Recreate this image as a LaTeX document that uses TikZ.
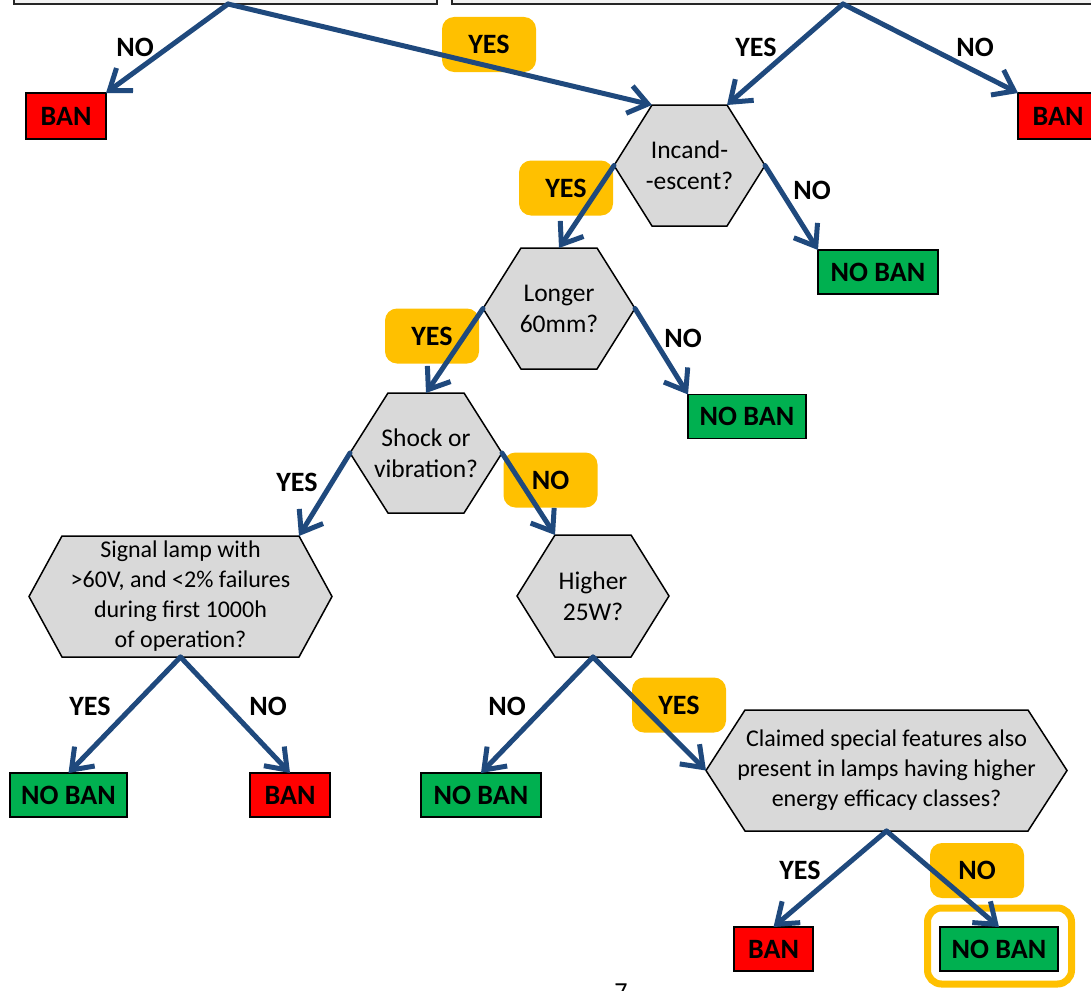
\documentclass[tikz,border=0pt]{standalone}
\usepackage{fontspec}
\setmainfont{Carlito}
\usetikzlibrary{arrows.meta,calc,backgrounds}

\definecolor{flowblue}{HTML}{1F497D}
\definecolor{banred}{HTML}{FF0000}
\definecolor{okgreen}{HTML}{00B050}
\definecolor{hexgray}{HTML}{D9D9D9}
\definecolor{gold}{HTML}{FFC000}
\definecolor{topgray}{HTML}{F2F2F2}

\tikzset{
  verdict/.style={draw=black, line width=1.5pt, minimum height=44pt, inner sep=0pt,
    outer sep=0pt, font=\fontsize{28}{33}\selectfont\bfseries},
  ban/.style={verdict, fill=banred, minimum width=80pt},
  noban/.style={verdict, fill=okgreen, minimum width=118pt},
  question/.style={inner sep=0pt, outer sep=0pt, align=center,
    font=\fontsize{24}{30}\selectfont},
  shortq/.style={question, font=\fontsize{25.5}{31}\selectfont},
  hexline/.style={draw=black, line width=1.5pt, fill=hexgray, line join=miter},
  answer/.style={font=\fontsize{28}{33}\selectfont\bfseries, inner sep=0pt},
  picked/.style={answer, fill=gold, rounded corners=12pt, minimum width=94pt,
    minimum height=55pt},
  topbox/.style={draw=black!85, line width=2pt, fill=topgray, inner sep=0pt, outer sep=0pt},
  flow/.style={draw=flowblue, line width=5pt, line cap=round,
    -{Straight Barb[length=19pt, width=28pt]}},
}

% hexagonal outline around a question node: #1 node name, #2 corner inset
\newcommand\hexoutline[2]{%
  \path[hexline] (#1.west) -- ($(#1.north west)+(#2,0)$) -- ($(#1.north east)+(-#2,0)$)
    -- (#1.east) -- ($(#1.south east)+(-#2,0)$) -- ($(#1.south west)+(#2,0)$) -- cycle;
  \coordinate (#1-tl) at ($(#1.north west)+(#2,0)$);
  \coordinate (#1-tr) at ($(#1.north east)+(-#2,0)$);
}

\begin{document}
\begin{tikzpicture}[x=1pt,y=-1pt]
\useasboundingbox (0,0) rectangle (1091,990);

% question boxes at the top (their text lies above the page)
\node[topbox, anchor=south west, minimum width=423pt, minimum height=80pt] (t1) at (14,4) {};
\node[topbox, anchor=south west, minimum width=700pt, minimum height=80pt] (t2) at (452,4) {};
\coordinate (t1o) at (228,4);
\coordinate (t2o) at (843,4);

% questions
\node[shortq, minimum width=151pt, minimum height=121pt] (q1) at (689.5,165.5) {Incand-\\-escent?};
\node[shortq, minimum width=152pt, minimum height=121pt] (q2) at (559,308.5) {Longer\\60mm?};
\node[shortq, minimum width=152pt, minimum height=120pt] (q3) at (426,453) {Shock or\\vibration?};
\node[shortq, minimum width=152pt, minimum height=122pt] (q4) at (593,596) {Higher\\25W?};
\node[question, minimum width=303pt, minimum height=121pt] (q5) at (180.5,596.5)
  {Signal lamp with\\>60V, and <2\% failures\\during first 1000h\\of operation?};
\node[question, minimum width=361pt, minimum height=121pt] (q6) at (886.5,770.5)
  {Claimed special features also\\present in lamps having higher\\energy efficacy classes?};

\begin{scope}[on background layer]
  \hexoutline{q1}{38}
  \hexoutline{q2}{38}
  \hexoutline{q3}{38}
  \hexoutline{q4}{38}
  \hexoutline{q5}{33}
  \hexoutline{q6}{39}
\end{scope}

% outcomes
\node[draw=gold, line width=7pt, rounded corners=14pt, minimum width=144pt,
  minimum height=76pt, inner sep=0pt] (hl) at (999.5,946) {};
\node[ban, minimum height=46pt] (v1) at (66,116) {BAN};
\node[ban, minimum height=46pt] (v2) at (1058,116) {BAN};
\node[noban, minimum width=120pt] (v3) at (878,272) {NO BAN};
\node[noban] (v4) at (747,416.5) {NO BAN};
\node[noban, minimum width=117pt] (v5) at (68.5,795) {NO BAN};
\node[ban] (v6) at (290,795) {BAN};
\node[noban, minimum width=120pt] (v7) at (481,795) {NO BAN};
\node[ban, minimum width=79pt] (v8) at (773.5,949) {BAN};
\node[noban] (v9) at (999,949) {NO BAN};

% answer labels
\node[answer] (a1) at (135,47) {NO};
\node[picked] (a2) at (489,44.5) {YES};
\node[answer] (a3) at (756,47) {YES};
\node[answer] (a4) at (975,47) {NO};
\node[picked] (a5) at (566,188) {YES};
\node[answer] (a6) at (812,190) {NO};
\node[picked] (a7) at (432,336) {YES};
\node[answer] (a8) at (683,338) {NO};
\node[answer] (a9) at (297,482) {YES};
\node[picked] (a10) at (550.5,480) {NO};
\node[answer] (a11) at (90,706) {YES};
\node[answer] (a12) at (268,706) {NO};
\node[answer] (a13) at (507,706) {NO};
\node[picked] (a14) at (679,705) {YES};
\node[answer] (a15) at (800,870) {YES};
\node[picked] (a16) at (977,870.5) {NO};

% connectors
\draw[flow] (t1o) -- (v1.north east);
\draw[flow] (t1o) -- (q1-tl);
\draw[flow] (t2o) -- (q1-tr);
\draw[flow] (t2o) -- (v2.north west);
\draw[flow] (q1.west) -- (q2.north);
\draw[flow] (q1.east) -- (v3.north west);
\draw[flow] (q2.west) -- (q3.north);
\draw[flow] (q2.east) -- (v4.north west);
\draw[flow] (q3.west) -- (q5-tr);
\draw[flow] (q3.east) -- (q4-tl);
\draw[flow] (q5.south) -- (v5.north);
\draw[flow] (q5.south) -- (v6.north);
\draw[flow] (q4.south) -- (v7.north);
\draw[flow] (q4.south) -- (q6.west);
\draw[flow] (q6.south) -- (v8.north);
\draw[flow] (q6.south) -- (v9.north);

% page number at the foot of the page
\node[anchor=base, inner sep=0pt, font=\fontsize{26}{30}\selectfont] (pg) at (621,1000) {7};
\end{tikzpicture}
\end{document}
